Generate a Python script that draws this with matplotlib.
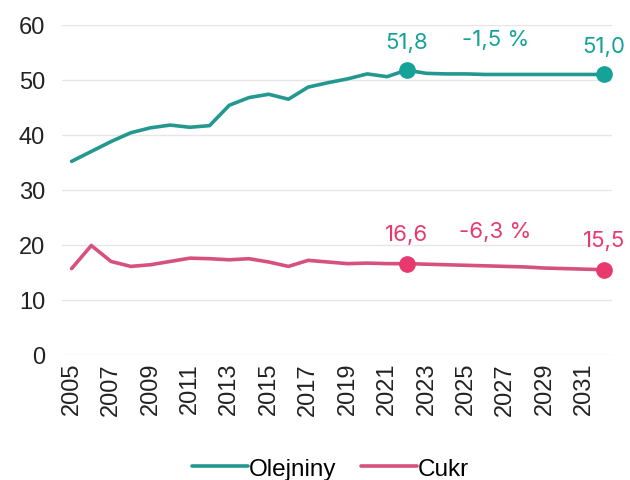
import numpy as np
import matplotlib.pyplot as plt

years = np.arange(2005, 2033)
olejniny = [35.2, 37.0, 38.8, 40.4, 41.3, 41.8, 41.4, 41.7, 45.4, 46.8,
            47.4, 46.5, 48.7, 49.5, 50.2, 51.1, 50.6, 51.8, 51.2, 51.1,
            51.1, 51.0, 51.0, 51.0, 51.0, 51.0, 51.0, 51.0]
cukr = [15.7, 19.9, 17.0, 16.1, 16.4, 17.0, 17.6, 17.5, 17.3, 17.5,
        16.9, 16.1, 17.2, 16.9, 16.6, 16.7, 16.6, 16.6, 16.5, 16.4,
        16.3, 16.2, 16.1, 16.0, 15.8, 15.7, 15.6, 15.5]
series_names = ['Olejniny', 'Cukr']
point_years = [2022, 2032]
point_labels = {'Olejniny': ['51,8', '51,0'], 'Cukr': ['16,6', '15,5']}
change_labels = {'Olejniny': '-1,5 %', 'Cukr': '-6,3 %'}
y_ticks = [0, 10, 20, 30, 40, 50, 60]
x_ticks = np.arange(2005, 2032, 2)

colors = {'Olejniny': '#23988f', 'Cukr': '#d6517f'}
dot_colors = {'Olejniny': '#14a299', 'Cukr': '#e8396f'}
plt.rcParams['font.family'] = ['Liberation Sans', 'DejaVu Sans']

fig = plt.figure(figsize=(6.3, 4.81), dpi=100)
ax = fig.add_axes([0.098, 0.26, 0.873, 0.686])

for name, vals in zip(series_names, [olejniny, cukr]):
    vals = np.array(vals)
    ax.plot(years, vals, color=colors[name], lw=2.6, label=name, clip_on=False,
            solid_capstyle='round')
    idx = [list(years).index(y) for y in point_years]
    ax.plot(years[idx], vals[idx], 'o', color=dot_colors[name], ms=11,
            clip_on=False, zorder=5)
    off = 13 if name == 'Olejniny' else 14
    for i, lab in zip(idx, point_labels[name]):
        ax.annotate(lab, (years[i], vals[i]), xytext=(0, off), textcoords='offset points',
                    ha='center', va='bottom', color=dot_colors[name], fontsize=16,
                    family=['Inter', 'DejaVu Sans'])
    ax.annotate(change_labels[name], ((point_years[0] + point_years[1]) / 2 - 0.5, vals[idx[0]]),
                xytext=(0, off + 2), textcoords='offset points', ha='center', va='bottom',
                color=dot_colors[name], fontsize=16, family=['Inter', 'DejaVu Sans'])

ax.set_xlim(2004.5, 2032.4)
ax.set_ylim(0, 60)
ax.set_yticks(y_ticks)
ax.set_xticks(x_ticks)
ax.set_xticklabels([str(x) for x in x_ticks], rotation=90)
ax.tick_params(length=0, labelsize=17, colors='#222222')
ax.tick_params(axis='y', pad=12)
ax.tick_params(axis='x', pad=5)
ax.grid(axis='y', color='#e6e6e6', lw=1)
ax.set_axisbelow(True)
for s in ax.spines.values():
    s.set_visible(False)

fig.legend(loc='lower center', bbox_to_anchor=(0.525, -0.045), ncol=2, frameon=False,
           fontsize=17.5, handlelength=2.3, handletextpad=0.05, columnspacing=1.0)

fig.savefig('out.png', dpi=100)
